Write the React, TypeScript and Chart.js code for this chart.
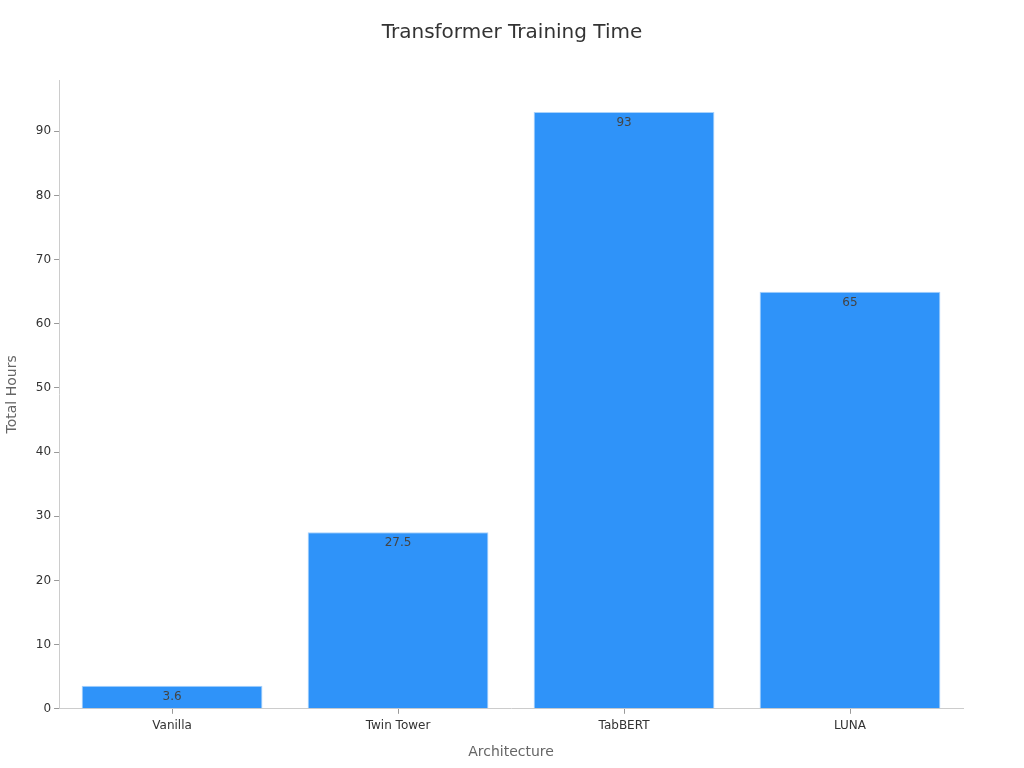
import { useEffect, useRef } from 'react'
import Chart from 'chart.js/auto'

const ARCHITECTURES = ['Vanilla', 'Twin Tower', 'TabBERT', 'LUNA']
const TOTAL_HOURS = [3.6, 27.5, 93, 65]
const CHART_TITLE = 'Transformer Training Time'

const FONT = '"DejaVu Sans", Verdana, sans-serif'
const BAR_COLOR = '#2f93f9'

// value labels sit just inside the top of each bar
const barLabels = {
  id: 'barLabels',
  afterDatasetsDraw(chart: Chart) {
    const { ctx } = chart
    const meta = chart.getDatasetMeta(0)
    ctx.save()
    ctx.font = `12px ${FONT}`
    ctx.fillStyle = '#444'
    ctx.textAlign = 'center'
    ctx.textBaseline = 'top'
    meta.data.forEach((bar: any, i: number) => {
      ctx.fillText(String(TOTAL_HOURS[i]), bar.x, bar.y + 5)
    })
    ctx.restore()
  },
}

// title centred on the whole canvas, not on the plot area
const canvasTitle = {
  id: 'canvasTitle',
  afterDraw(chart: Chart) {
    const { ctx, width } = chart
    ctx.save()
    ctx.font = `20px ${FONT}`
    ctx.fillStyle = '#333'
    ctx.textAlign = 'center'
    ctx.textBaseline = 'middle'
    ctx.fillText(CHART_TITLE, width / 2, 33)
    ctx.restore()
  },
}

export default function App() {
  const canvasRef = useRef<HTMLCanvasElement>(null)

  useEffect(() => {
    document.body.style.margin = '0'
    if (!canvasRef.current) return
    const chart = new Chart(canvasRef.current, {
      type: 'bar',
      data: {
        labels: ARCHITECTURES,
        datasets: [
          {
            data: TOTAL_HOURS,
            backgroundColor: BAR_COLOR,
            borderColor: '#a9d2fb',
            borderWidth: 1,
            barPercentage: 0.8,
            categoryPercentage: 1,
          },
        ],
      },
      options: {
        responsive: false,
        animation: false,
        layout: { padding: { top: 80, right: 61, bottom: 3, left: 0 } },
        plugins: {
          legend: { display: false },
          tooltip: { enabled: false },
          title: { display: false },
        },
        scales: {
          x: {
            grid: { offset: false, drawOnChartArea: false, drawTicks: true, tickLength: 5, color: '#999' },
            border: { display: true, color: '#ccc' },
            ticks: { color: '#333', font: { family: FONT, size: 12 }, padding: 5 },
            title: {
              display: true,
              text: 'Architecture',
              color: '#666',
              font: { family: FONT, size: 14 },
              padding: { top: 6 },
            },
          },
          y: {
            min: 0,
            max: 98,
            grid: { drawOnChartArea: false, drawTicks: true, tickLength: 5, color: '#999' },
            border: { display: true, color: '#ccc' },
            ticks: { stepSize: 10, includeBounds: false, color: '#333', font: { family: FONT, size: 12 }, padding: 3 },
            title: {
              display: true,
              text: 'Total Hours',
              color: '#666',
              font: { family: FONT, size: 14 },
              padding: { top: 4, bottom: 12 },
            },
          },
        },
      },
      plugins: [barLabels, canvasTitle],
    })
    return () => chart.destroy()
  }, [])

  return (
    <div style={{ width: 1024, height: 768, background: '#fff' }}>
      <canvas ref={canvasRef} width={1024} height={768}></canvas>
    </div>
  )
}
